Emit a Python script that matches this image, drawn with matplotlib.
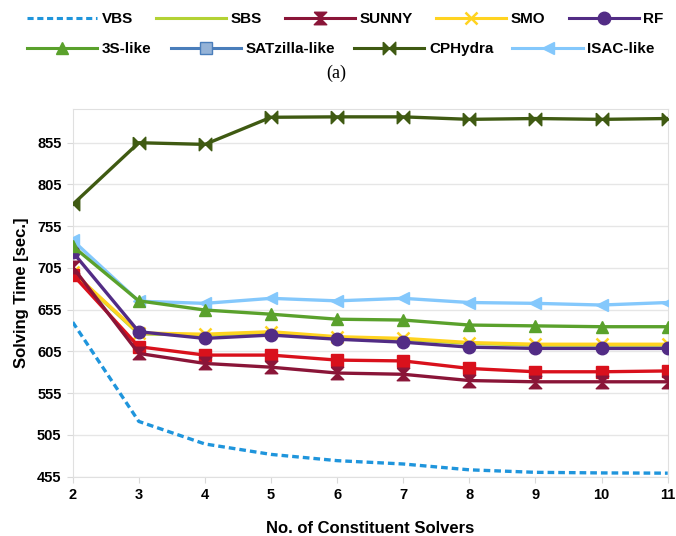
import matplotlib
matplotlib.use("Agg")
import matplotlib.pyplot as plt
import numpy as np
from matplotlib.path import Path
from matplotlib.lines import Line2D

# number of constituent solvers
solvers = [2, 3, 4, 5, 6, 7, 8, 9, 10, 11]

# average solving time [sec.]
vbs = [640, 521, 494, 481.5, 474, 470, 463, 460, 459.3, 459]
sbs = [699, 626, 624.5, 627.5, 621.5, 619.5, 614.5, 612.5, 612.5, 612.5]
sunny = [706, 602.5, 590.5, 586, 579, 577.5, 570, 568.5, 568.5, 568.5]
smo = [700, 627, 625.5, 628.5, 622.5, 620.5, 615.5, 613.5, 613.5, 613.5]
rf = [724, 628.5, 620.5, 624.5, 619.5, 616, 610, 608.5, 608.5, 608.5]
s3_like = [731, 665.5, 654.5, 649.5, 643.5, 642.5, 636.5, 635.5, 634.5, 634.5]
satzilla = [697, 610.5, 600.5, 600.5, 594.5, 593.5, 584.5, 580.5, 580.5, 581.5]
cphydra = [781, 855, 853, 885.5, 886, 886, 883, 884, 883, 884]
isac = [738, 665, 662.5, 668.5, 665.5, 668.5, 663.5, 662.5, 660.5, 663.5]

yticks = [455, 505, 555, 605, 655, 705, 755, 805, 855]

# hourglass and sideways bowtie markers
hourglass = Path([(-1, 1), (1, 1), (0, 0), (1, -1), (-1, -1), (0, 0), (-1, 1)])
bowtie = Path([(-1, 1), (0, 0), (1, 1), (1, -1), (0, 0), (-1, -1), (-1, 1)])

plt.rcParams["font.family"] = "Liberation Sans"
plt.rcParams["font.weight"] = "bold"

fig = plt.figure(figsize=(6.76, 5.36), dpi=100)
ax = fig.add_axes([0.1075, 0.111, 0.8802, 0.685])

lw = 2.4
ax.plot(solvers, vbs, color="#1f95dc", linestyle=(0, (2.0, 1.2)), linewidth=lw, zorder=3)
ax.plot(solvers, sbs, color="#b3d234", linewidth=lw, zorder=3)
ax.plot(solvers, smo, color="#ffd320", marker="x", markersize=8, markeredgewidth=1.8, linewidth=lw, zorder=4)
ax.plot(solvers, rf, color="#522c85", marker="o", markersize=9, linewidth=lw, zorder=5)
ax.plot(solvers, satzilla, color="#d9111c", marker="s", markersize=9, linewidth=lw, zorder=5)
ax.plot(solvers, sunny, color="#8a1538", marker=hourglass, markersize=9, linewidth=lw, zorder=5)
ax.plot(solvers, s3_like, color="#5aa12c", marker="^", markersize=9, linewidth=lw, zorder=5)
ax.plot(solvers, isac, color="#84c8fc", marker="<", markersize=9, linewidth=lw, zorder=4)
ax.plot(solvers, cphydra, color="#3f5a12", marker=bowtie, markersize=9, linewidth=lw, zorder=5)

ax.set_xlim(2, 11)
ax.set_ylim(455, 895)
ax.set_xticks(solvers)
ax.set_yticks(yticks)
ax.tick_params(labelsize=10.5, length=4, color="#d9d9d9", pad=4)
for lab in ax.get_xticklabels() + ax.get_yticklabels():
    lab.set_fontweight("bold")
ax.yaxis.grid(True, color="#e6e6e6", linewidth=1)
for sp in ax.spines.values():
    sp.set_color("#e0e0e0")
ax.set_xlabel("No. of Constituent Solvers", fontsize=12, fontweight="bold", labelpad=14)
ax.set_ylabel("Solving Time [sec.]", fontsize=12, fontweight="bold", labelpad=6)

# legend above the axes, two rows
h_vbs = Line2D([], [], color="#1f95dc", linestyle=(0, (2.0, 1.2)), linewidth=2.2)
h_sbs = Line2D([], [], color="#b3d234", linewidth=2.2)
h_sunny = Line2D([], [], color="#8a1538", marker=hourglass, markersize=9, linewidth=2.2)
h_smo = Line2D([], [], color="#ffd320", marker="x", markersize=8, markeredgewidth=1.8, linewidth=2.2)
h_rf = Line2D([], [], color="#522c85", marker="o", markersize=9, linewidth=2.2)
h_3s = Line2D([], [], color="#5aa12c", marker="^", markersize=9, linewidth=2.2)
h_sat = Line2D([], [], color="#4a7ebb", marker="s", markersize=9, markerfacecolor="#95b3d7", linewidth=2.2)
h_cph = Line2D([], [], color="#3f5a12", marker=bowtie, markersize=9, linewidth=2.2)
h_isac = Line2D([], [], color="#84c8fc", marker="<", markersize=9, linewidth=2.2)

common = dict(loc="center left", frameon=False, handlelength=4.6, handletextpad=0.3,
              borderpad=0, borderaxespad=0, prop={"size": 11, "weight": "bold"})
fig.legend([h_vbs, h_sbs, h_sunny, h_smo, h_rf], ["VBS", "SBS", "SUNNY", "SMO", "RF"],
           ncol=5, bbox_to_anchor=(0.04, 0.964), columnspacing=1.5, **common)
fig.legend([h_3s, h_sat, h_cph, h_isac], ["3S-like", "SATzilla-like", "CPHydra", "ISAC-like"],
           ncol=4, bbox_to_anchor=(0.04, 0.908), columnspacing=1.25, **common)
fig.text(0.497, 0.855, "(a)", fontsize=13, family="Liberation Serif", fontweight="normal", ha="center")

fig.savefig("out.png", dpi=100)
